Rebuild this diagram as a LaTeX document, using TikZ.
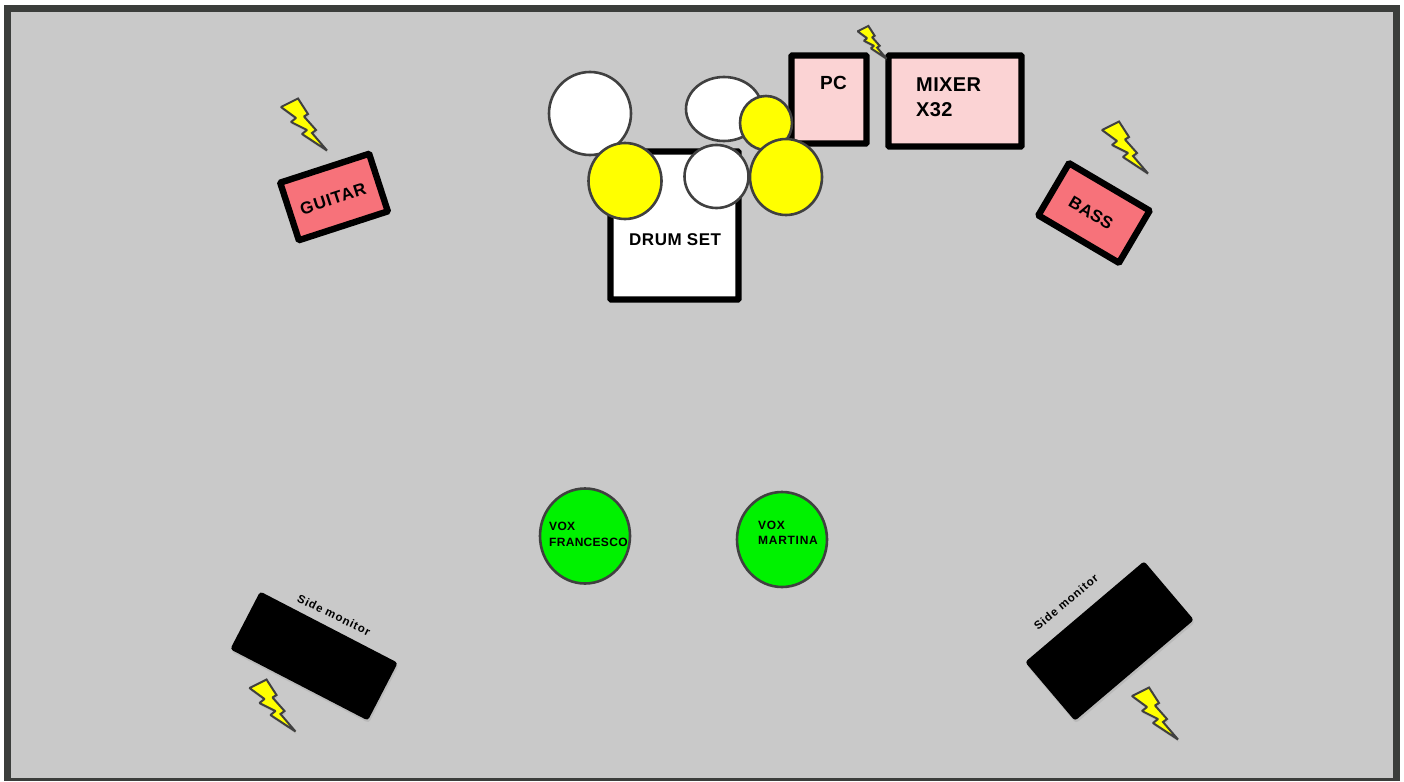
\documentclass[tikz,border=0pt]{standalone}
\usepackage{fontspec}
\setmainfont{Liberation Sans}[BoldFont=*-Bold]
\usetikzlibrary{shadows,shapes.geometric}
\definecolor{stagebg}{HTML}{C9C9C9}
\definecolor{framecol}{HTML}{3B3D3B}
\definecolor{edgecol}{HTML}{404040}
\definecolor{lightpink}{HTML}{FBD3D4}
\definecolor{ampred}{HTML}{F7727A}
\definecolor{voxgreen}{HTML}{00F200}
\definecolor{boltyellow}{HTML}{FFFF00}
\tikzset{
  softshadow/.style={drop shadow={opacity=.2,shadow xshift=1pt,shadow yshift=-2.5pt}},
  boxbase/.style={draw=black,line width=6.4pt,rounded corners=1pt,inner sep=0pt,softshadow},
  ampbox/.style={boxbase,fill=ampred,minimum width=93.5pt,minimum height=60.5pt},
  monbox/.style={fill=black,rounded corners=3pt,inner sep=0pt,softshadow},
  drum/.style={draw=edgecol,line width=2.6pt,ellipse},
  boltshape/.style={draw=edgecol,line width=2pt,fill=boltyellow,line join=miter,miter limit=1.5,softshadow},
  lab/.style={font=\bfseries,text=black,inner sep=0pt,align=left},
}
\newcommand{\stagebolt}[3]{%
  \begin{scope}[shift={(#1,#2)},scale=#3]
    \path[boltshape] (1,10)--(18,1.5)--(28,17)--(24,19.5)--(36,33)--(32,36)--(47,53.5)--(22,37)--(27,33)--(11,25)--(16,21)--cycle;
  \end{scope}}
\newcommand{\ovaldrum}[6]{% name, x, y, width, height, fill
  \node[drum,fill=#6,inner sep=0pt,minimum width=#4pt,minimum height=#5pt] (#1) at (#2,#3) {};}
\newcommand{\sized}[3]{\fontsize{#1}{#2}\bfseries\addfontfeature{LetterSpace=#3}}
\begin{document}
\begin{tikzpicture}[x=1pt,y=-1pt]
  \useasboundingbox (0,0) rectangle (1404,781);
  \fill[white] (0,0) rectangle (1404,781);
  \fill[framecol] (4,5) rectangle (1400,781);
  \fill[stagebg] (11,12) rectangle (1393,778);

  % drum set body
  \node[boxbase,fill=white,minimum width=128pt,minimum height=148pt] (drumset) at (674.5,225.5) {};
  % PC and mixer
  \node[boxbase,fill=lightpink,minimum width=75pt,minimum height=88pt] (pc) at (829,99.5) {};
  \node[boxbase,fill=lightpink,minimum width=133pt,minimum height=91pt] (mixer) at (955,101) {};

  % drums
  \ovaldrum{tomA}{590}{113.5}{82}{83}{white}
  \ovaldrum{tomB}{724}{109}{76}{64}{white}
  \ovaldrum{cymS}{766}{123}{52}{54}{boltyellow}
  \ovaldrum{cymL}{625}{181}{73}{76}{boltyellow}
  \ovaldrum{tomC}{716.5}{176.5}{64}{63}{white}
  \ovaldrum{cymR}{786}{177}{72}{76}{boltyellow}

  % amps
  \node[ampbox,rotate=18] (guitar) at (334,197) {};
  \node[ampbox,rotate=-30.5] (bass) at (1094,213) {};

  % monitors
  \node[monbox,rotate=-27.4,minimum width=155pt,minimum height=65pt] (monL) at (314,656) {};
  \node[monbox,rotate=40.3,minimum width=156pt,minimum height=77pt] (monR) at (1109.5,641) {};

  % vocals
  \ovaldrum{voxF}{585}{536}{90}{95}{voxgreen}
  \ovaldrum{voxM}{782}{539.5}{90}{95}{voxgreen}

  % bolts
  \stagebolt{280}{97}{1}
  \stagebolt{1101}{120}{1}
  \stagebolt{248.5}{678}{1}
  \stagebolt{1131}{686}{1}
  \stagebolt{857}{25}{0.63}

  % labels
  \node[lab,anchor=base west,font=\sized{17}{20}{3}] (tdrum) at (629,245.5) {DRUM SET};
  \node[lab,anchor=base west,font=\sized{19}{22}{2}] (tpc) at (820,90) {PC};
  \node[lab,anchor=north west,font=\sized{20}{25}{2}] (tmix) at (916,78) {MIXER\\X32};
  \node[lab,rotate=18,font=\sized{17}{20}{5}] (tgtr) at (333,199) {GUITAR};
  \node[lab,rotate=-30.5,font=\sized{17}{20}{1}] (tbass) at (1091,213) {BASS};
  \node[lab,anchor=north west,font=\sized{12}{15.5}{2.5}] (tvf) at (549,522) {VOX\\FRANCESCO};
  \node[lab,anchor=north west,font=\sized{12}{15.5}{6}] (tvm) at (758,520.5) {VOX\\MARTINA};
  \node[lab,rotate=-26,font=\sized{11.5}{14}{8}] (tml) at (334,615) {Side monitor};
  \node[lab,rotate=40,font=\sized{11.5}{14}{8}] (tmr) at (1066,602) {Side monitor};
\end{tikzpicture}
\end{document}
